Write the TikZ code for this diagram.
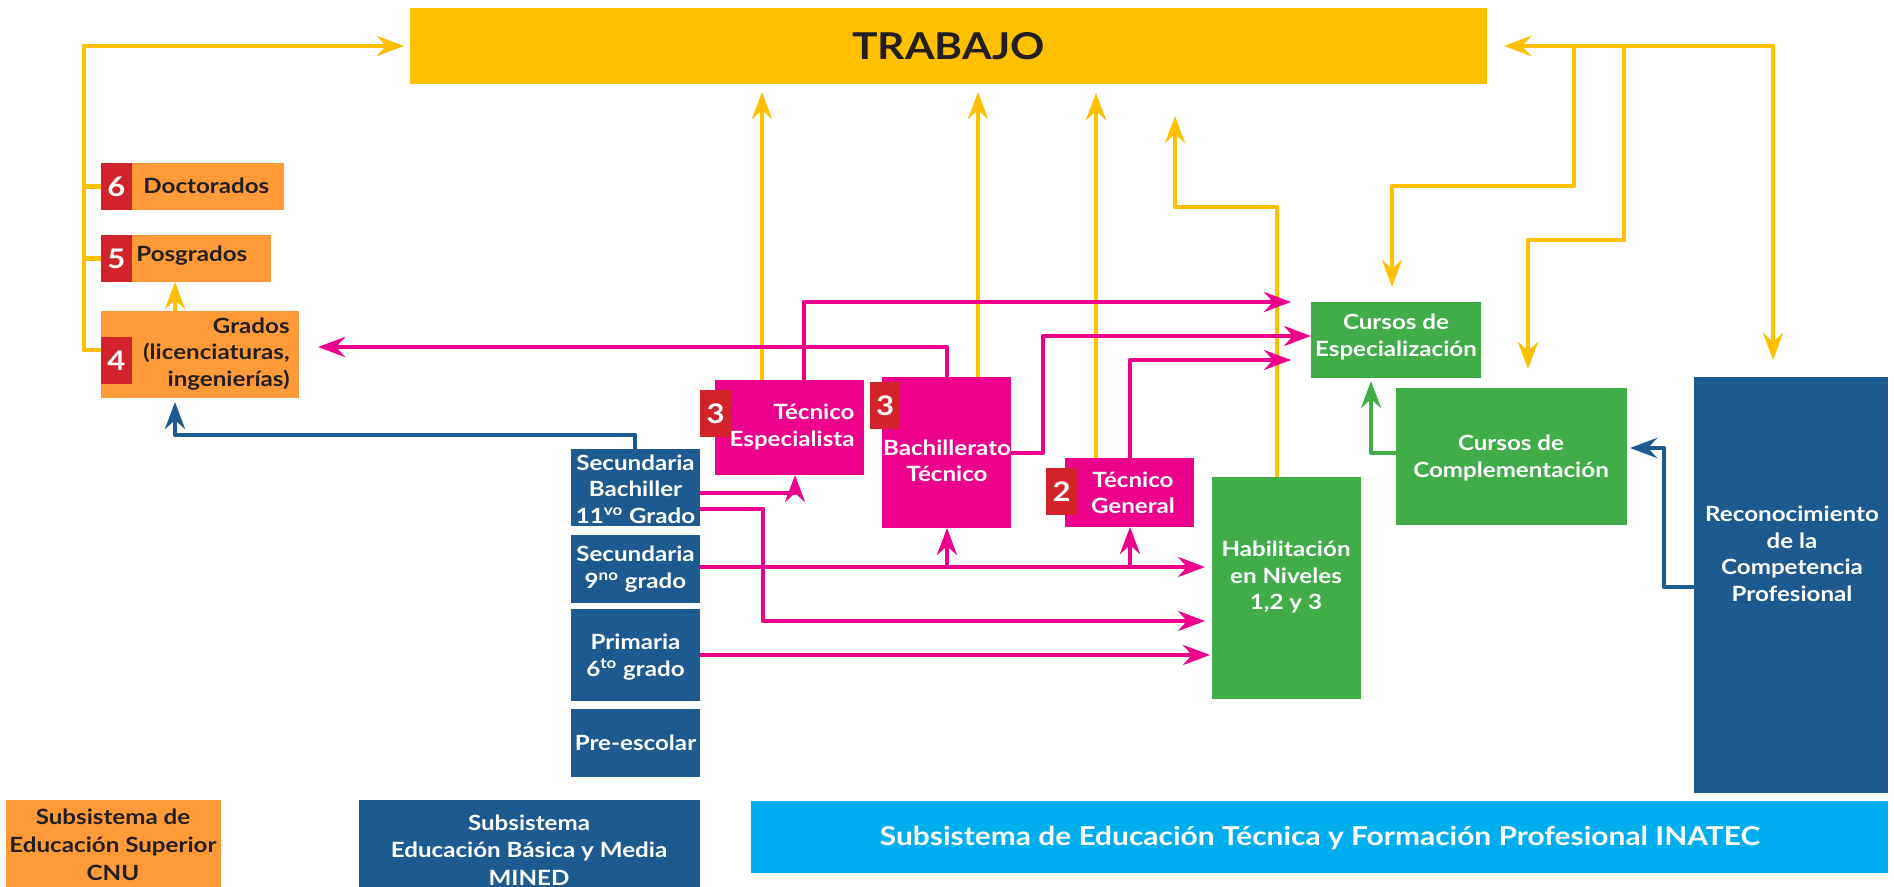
\documentclass[tikz,border=0pt]{standalone}
\usepackage{fontspec}
\setmainfont{Lato}[FakeStretch=1.15]
\usetikzlibrary{arrows.meta,fit}
\definecolor{ylw}{HTML}{FFC000}
\definecolor{orc}{HTML}{FF9A38}
\definecolor{redc}{HTML}{D2232A}
\definecolor{magc}{HTML}{EC008C}
\definecolor{grc}{HTML}{41AD49}
\definecolor{blc}{HTML}{1C5A8F}
\definecolor{lbc}{HTML}{00AEEF}
\definecolor{dkt}{HTML}{231F20}
\begin{document}
\begin{tikzpicture}[x=0.5pt,y=-0.5pt,
  myhead/.tip={Stealth[length=13.5pt,width=10pt,inset=4.5pt]},
  bx/.style={inner sep=0pt, outer sep=0pt, draw=none},
  wt/.style={text=white, font=\fontsize{10.5}{13.25}\selectfont\bfseries, align=center, inner sep=0pt},
  dk/.style={text=dkt, font=\fontsize{10.5}{13.25}\selectfont\bfseries, align=center, inner sep=0pt},
  badge/.style={bx, fill=redc},
  bnum/.style={text=white, inner sep=0pt, font=\fontsize{13.5}{14}\selectfont\bfseries},
  conn/.style={line width=2.25pt, line join=round, -myhead},
  yl/.style={conn, draw=ylw},
  pk/.style={conn, draw=magc},
  bl/.style={conn, draw=blc},
  gr/.style={conn, draw=grc}]
\useasboundingbox (0,0) rectangle (1894,887);

% ---------- boxes ----------
\node[bx, fill=ylw, fit={(410,8)(1487,84)}] (trabajo) {};
\node[text=dkt, inner sep=0pt, font=\fontsize{18.5}{20}\selectfont\bfseries] (ttrab) at (trabajo.center) {TRABAJO};

\node[bx, fill=orc, fit={(101,163)(284,210)}] (doc) {};
\node[badge, fit={(101,163)(132,210)}] (b6) {};
\node[bnum] at (b6.center) {6};
\node[dk, anchor=west] (tdoc) at (143,186) {Doctorados};

\node[bx, fill=orc, fit={(101,235)(271,282)}] (pos) {};
\node[badge, fit={(101,235)(132,282)}] (b5) {};
\node[bnum] at (b5.center) {5};
\node[dk, anchor=west] (tpos) at (136,256) {Posgrados};

\node[bx, fill=orc, fit={(101,311)(299,398)}] (gra) {};
\node[badge, fit={(101,337)(132,384)}] (b4) {};
\node[bnum] at (b4.center) {4};
\node[dk, anchor=east, align=right] (tgra) at (290,354) {Grados\\(licenciaturas,\\ingenierías)};

\node[bx, fill=magc, fit={(715,380)(864,475)}] (tes) {};
\node[badge, fit={(700,390)(731,437)}] (b3a) {};
\node[bnum] at (b3a.center) {3};
\node[wt, anchor=east, align=right] (ttes) at (855,427) {Técnico\\Especialista};

\node[bx, fill=magc, fit={(882,377)(1011,528)}] (bat) {};
\node[badge, fit={(870,382)(900,429)}] (b3b) {};
\node[bnum] at (b3b.center) {3};
\node[wt] (tbat) at (947,461) {Bachillerato\\Técnico};

\node[bx, fill=magc, fit={(1065,458)(1194,527)}] (tge) {};
\node[wt] (ttge) at (1133,493) {Técnico\\General};
\node[badge, fit={(1046,468)(1077,515)}] (b2) {};
\node[bnum] at (b2.center) {2};

\node[bx, fill=grc, fit={(1212,477)(1361,699)}] (hab) {};
\node[wt] (thab) at (1286,577) {Habilitación\\en Niveles\\1,2 y 3};

\node[bx, fill=grc, fit={(1311,302)(1481,378)}] (cesp) {};
\node[wt] (tcesp) at (1396,337) {Cursos de\\Especialización};
\node[bx, fill=grc, fit={(1396,388)(1627,525)}] (ccom) {};
\node[wt] (tccom) at (1511,458) {Cursos de\\Complementación};

\node[bx, fill=blc, fit={(1694,377)(1888,793)}] (rec) {};
\node[wt] (trec) at (1792,554) {Reconocimiento\\de la\\Competencia\\Profesional};

\node[bx, fill=blc, fit={(571,449)(700,526)}] (sb) {};
\node[wt] (tsb) at (635.5,489) {Secundaria\\Bachiller\\11\textsuperscript{vo} Grado};
\node[bx, fill=blc, fit={(571,535)(700,603)}] (s9) {};
\node[wt] (ts9) at (635.5,569) {Secundaria\\9\textsuperscript{no} grado};
\node[bx, fill=blc, fit={(571,609)(700,701)}] (pr) {};
\node[wt] (tpr) at (635.5,657) {Primaria\\6\textsuperscript{to} grado};
\node[bx, fill=blc, fit={(571,709)(700,777)}] (pre) {};
\node[wt] (tpre) at (635.5,743) {Pre-escolar};

% ---------- legend ----------
\node[bx, fill=orc, fit={(6,800)(221,887)}] (cnu) {};
\node[dk, font=\fontsize{10.5}{14}\selectfont\bfseries] (tcnu) at (113,845) {Subsistema de\\Educación Superior\\CNU};
\node[bx, fill=blc, fit={(359,800)(700,887)}] (mined) {};
\node[wt, font=\fontsize{10.5}{13.75}\selectfont\bfseries] (tmined) at (529,850) {Subsistema\\Educación Básica y Media\\MINED};
\node[bx, fill=lbc, fit={(751,801)(1888,873)}] (inatec) {};
\node[wt, font=\fontsize{13}{14}\selectfont\bfseries] (tinatec) at (1320,838) {Subsistema de Educación Técnica y Formación Profesional INATEC};

% ---------- yellow connectors ----------
\coordinate (jl) at (84,350);
\draw[yl,-] (doc.west) -- ++(-17,0);
\draw[yl,-] (pos.west) -- ++(-17,0);
\draw[yl,shorten >=3pt] (gra.west |- jl) -- (jl) |- (trabajo.west);
\draw[yl] (175,0 |- gra.north) -- (175,0 |- pos.south);
\draw[yl,shorten >=4pt] (762,0 |- tes.north) -- (762,0 |- trabajo.south);
\draw[yl,shorten >=4pt] (978,0 |- bat.north) -- (978,0 |- trabajo.south);
\draw[yl,shorten >=4.5pt] (1096,0 |- tge.north) -- (1096,0 |- trabajo.south);
\draw[yl,shorten >=16pt] (1277,0 |- hab.north) -- (1277,207) -- (1175,207) -- (1175,0 |- trabajo.south);
\coordinate (jr) at (1773,46);
\coordinate (ja) at (1574,46);
\coordinate (jb) at (1624,46);
\draw[yl,myhead-myhead,shorten <=8.5pt,shorten >=8.5pt] (trabajo.east) -- (jr) -- (1773,0 |- rec.north);
\draw[yl,shorten >=7.5pt] (ja) -- (1574,186) -- (1392,186) -- (1392,0 |- cesp.north);
\draw[yl,shorten >=9.5pt] (jb) -- (1624,240) -- (1528,240) -- (1528,0 |- ccom.north);

% ---------- magenta connectors ----------
\draw[pk,shorten >=9.5pt] (947,0 |- bat.north) -- (947,347) -- (gra.east |- 0,347);
\draw[pk,shorten >=10pt] (804,0 |- tes.north) -- (804,302) -- (cesp.west |- 0,302);
\draw[pk] (bat.east |- 0,453) -- (1043,453) -- (1043,336) -- (cesp.west |- 0,336);
\draw[pk,shorten >=10pt] (1130,0 |- tge.north) -- (1130,360) -- (cesp.west |- 0,360);
\draw[pk] (sb.east |- 0,493) -- (795,493) -- (795,0 |- tes.south);
\draw[pk,shorten >=3.5pt] (sb.east |- 0,509) -- (763,509) -- (763,621) -- (hab.west |- 0,621);
\draw[pk,shorten >=3.5pt] (s9.east |- 0,567) -- (hab.west |- 0,567);
\coordinate (m1) at (947,567);
\coordinate (m2) at (1130,567);
\draw[pk] (m1) -- (947,0 |- bat.south);
\draw[pk] (m2) -- (1130,0 |- tge.south);
\draw[pk,shorten >=1pt] (pr.east |- 0,655) -- (hab.west |- 0,655);

% ---------- blue and green connectors ----------
\draw[bl,shorten >=2pt] (635,0 |- sb.north) -- (635,435) -- (175,435) -- (175,0 |- gra.south);
\draw[bl,shorten >=1.5pt] (rec.west |- 0,587) -- (1664,587) -- (1664,448) -- (ccom.east |- 0,448);
\draw[gr,shorten >=1.5pt] (ccom.west |- 0,453) -- (1371,453) -- (1371,0 |- cesp.south);
\end{tikzpicture}
\end{document}
